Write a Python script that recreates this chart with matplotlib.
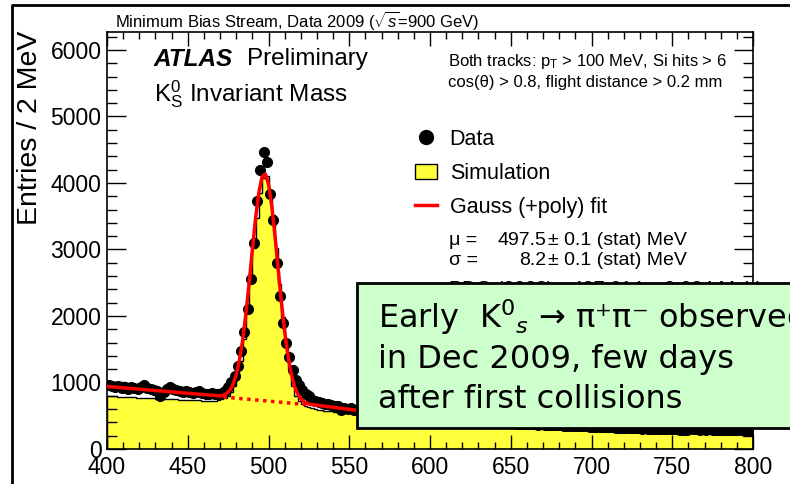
import numpy as np
import matplotlib
matplotlib.use("Agg")
import matplotlib.pyplot as plt
from matplotlib.lines import Line2D
from matplotlib.patches import Patch, Rectangle

plt.rcParams['font.family'] = ['Liberation Sans', 'DejaVu Sans']
plt.rcParams['mathtext.fontset'] = 'custom'
plt.rcParams['mathtext.rm'] = 'Liberation Sans'
plt.rcParams['mathtext.it'] = 'Liberation Sans:italic'
plt.rcParams['mathtext.bf'] = 'Liberation Sans:bold'
plt.rcParams['hatch.color'] = '#ffffb4'
plt.rcParams['hatch.linewidth'] = 1.0

# 2 MeV bins from 400 to 800 MeV
bin_lo, bin_hi, bin_w = 400, 800, 2

data = [
    955, 940, 930, 950, 915, 935, 905, 925, 915, 900,
    935, 960, 915, 900, 890, 870, 800, 850, 900, 935,
    905, 880, 870, 860, 875, 850, 845, 860, 870, 835,
    830, 825, 840, 820, 830, 845, 870, 930, 1000, 1100,
    1250, 1480, 1760, 2100, 2560, 3100, 3730, 4200, 4470, 4320,
    3830, 3450, 2800, 2300, 1900, 1590, 1390, 1190, 1040, 960,
    890, 830, 790, 740, 720, 700, 690, 670, 680, 655,
    640, 650, 590, 620, 600, 610, 590, 580, 575, 570,
    560, 565, 548, 545, 542, 530, 533, 520, 522, 512,
    510, 500, 503, 492, 497, 485, 488, 478, 476, 468,
    470, 462, 460, 452, 455, 446, 447, 438, 440, 432,
    431, 425, 427, 419, 421, 414, 416, 408, 410, 402,
    404, 398, 400, 393, 394, 388, 390, 383, 384, 378,
    380, 373, 375, 368, 370, 364, 366, 360, 361, 355,
    357, 351, 353, 347, 348, 343, 345, 339, 340, 335,
    336, 331, 333, 327, 329, 324, 326, 320, 322, 316,
    318, 313, 315, 310, 312, 307, 309, 304, 306, 301,
    303, 299, 301, 296, 298, 294, 296, 291, 293, 289,
    310, 296, 305, 290, 300, 288, 295, 285, 292, 283,
    290, 282, 288, 280, 286, 279, 284, 277, 282, 276,
]

sim = [
    800, 796, 791, 789, 785, 783, 779, 778, 775, 773,
    770, 768, 765, 764, 761, 759, 757, 754, 752, 750,
    748, 745, 744, 741, 739, 737, 735, 732, 730, 728,
    726, 724, 725, 728, 735, 745, 765, 800, 860, 950,
    1100, 1330, 1650, 2050, 2520, 3020, 3480, 3850, 4080, 4100,
    3900, 3520, 3020, 2480, 1980, 1550, 1200, 950, 800, 720,
    670, 640, 625, 612, 600, 592, 585, 578, 572, 566,
    560, 555, 550, 545, 540, 536, 532, 528, 524, 520,
    516, 512, 508, 504, 500, 496, 492, 488, 484, 480,
    476, 472, 468, 465, 461, 458, 454, 451, 447, 444,
    441, 438, 435, 432, 429, 426, 423, 420, 417, 415,
    412, 409, 407, 404, 402, 399, 397, 394, 392, 390,
    387, 385, 383, 381, 379, 376, 374, 372, 370, 368,
    366, 364, 362, 360, 358, 357, 355, 353, 351, 349,
    348, 346, 344, 343, 341, 340, 338, 336, 335, 333,
    332, 330, 329, 327, 326, 325, 323, 322, 320, 319,
    318, 316, 315, 314, 312, 311, 310, 309, 307, 306,
    305, 304, 303, 302, 300, 299, 298, 297, 296, 295,
    294, 293, 292, 291, 290, 289, 288, 288, 287, 286,
    285, 284, 284, 283, 282, 281, 281, 280, 279, 279,
]

# Gauss (+poly) fit curve
fit_x = [400, 470, 472, 474, 476, 478, 480, 482, 484, 486, 488, 490, 492, 494,
         496, 498, 500, 502, 504, 506, 508, 510, 512, 514, 516, 518, 520, 522,
         524, 526, 552, 600]
fit_y = [940, 798, 809, 833, 883, 970, 1114, 1334, 1637, 2031, 2494, 2994, 3470,
         3855, 4092, 4137, 3985, 3660, 3209, 2706, 2208, 1768, 1411, 1141, 953,
         831, 755, 711, 685, 671, 590, 500]
# polynomial part under the peak
bkg_x = [472, 524]
bkg_y = [782, 667]

x_ticks = [400, 450, 500, 550, 600, 650, 700, 750, 800]
y_ticks = [0, 1000, 2000, 3000, 4000, 5000, 6000]

edges = np.arange(bin_lo, bin_hi + bin_w, bin_w)
centers = edges[:-1] + bin_w / 2
data = np.array(data)
sim = np.array(sim)

yellow = '#ffff3c'

W, H = 790, 484
fig = plt.figure(figsize=(W / 100, H / 100), dpi=100)
ax = fig.add_axes([107 / W, 1 - 449 / H, 646 / W, 417 / H])

ax.stairs(sim, edges, fill=True, facecolor=yellow, edgecolor='none',
          hatch='.....', zorder=1)
ax.stairs(sim, edges, color='black', lw=1.0, zorder=2)
ax.errorbar(centers, data, yerr=np.sqrt(data), fmt='o', color='black',
            ms=7, elinewidth=1, capsize=0, zorder=3)
ax.plot(fit_x, fit_y, color='red', lw=2.5, zorder=4)
ax.plot(bkg_x, bkg_y, color='red', lw=2.5, ls=(0, (1, 1.3)), zorder=4)

ax.set_xlim(bin_lo, bin_hi)
ax.set_ylim(0, 6270)
ax.set_xticks(x_ticks)
ax.set_yticks(y_ticks)
ax.set_xticks(np.arange(400, 801, 10), minor=True)
ax.set_yticks(np.arange(0, 6201, 200), minor=True)
ax.tick_params(which='both', direction='in', top=True, right=True,
               labelsize=16.5, width=1)
ax.tick_params(axis='x', which='major', length=10, pad=5)
ax.tick_params(axis='x', which='minor', length=5)
ax.tick_params(axis='y', which='major', length=14, pad=4)
ax.tick_params(axis='y', which='minor', length=7)
for s in ax.spines.values():
    s.set_linewidth(1.2)

fig.text(30 / W, 1 - 31 / H, 'Entries / 2 MeV', rotation=90,
         ha='center', va='top', fontsize=20.5)
fig.text(115 / W, 1 - 21 / H, r'Minimum Bias Stream, Data 2009 ($\sqrt{s}$=900 GeV)',
         ha='left', va='center', fontsize=12)

ax.text(0.072, 0.935, 'ATLAS', transform=ax.transAxes, fontsize=17.5,
        fontweight='bold', fontstyle='italic', va='center')
ax.text(0.217, 0.935, 'Preliminary', transform=ax.transAxes, fontsize=17.5,
        va='center')
ax.text(0.072, 0.852, r'K$^0_\mathrm{S}$ Invariant Mass', transform=ax.transAxes,
        fontsize=17.5, va='center')

ax.text(0.528, 0.93, r'Both tracks: p$_\mathrm{T}$ > 100 MeV, Si hits > 6',
        transform=ax.transAxes, fontsize=12, va='center')
ax.text(0.528, 0.878, 'cos(θ) > 0.8, flight distance > 0.2 mm',
        transform=ax.transAxes, fontsize=12, va='center')

handles = [
    Line2D([], [], marker='o', color='black', ls='none', ms=10),
    Patch(facecolor=yellow, edgecolor='black', lw=1),
    Line2D([], [], color='red', lw=2.5),
]
leg = ax.legend(handles, ['Data', 'Simulation', 'Gauss (+poly) fit'],
                loc='upper left', bbox_to_anchor=(0.477, 0.768), frameon=False,
                fontsize=15.5, handlelength=1.0, handletextpad=0.6,
                labelspacing=0.6, borderpad=0, borderaxespad=0)

fs = 14
ax.text(0.529, 0.5, 'μ =', transform=ax.transAxes, fontsize=fs, va='center')
ax.text(0.68, 0.5, '497.5', transform=ax.transAxes, fontsize=fs, va='center', ha='right')
ax.text(0.683, 0.5, '± 0.1 (stat) MeV', transform=ax.transAxes, fontsize=fs, va='center')
ax.text(0.529, 0.452, 'σ =', transform=ax.transAxes, fontsize=fs, va='center')
ax.text(0.68, 0.452, '8.2', transform=ax.transAxes, fontsize=fs, va='center', ha='right')
ax.text(0.683, 0.452, '± 0.1 (stat) MeV', transform=ax.transAxes, fontsize=fs, va='center')
ax.text(0.529, 0.382, 'PDG (2008):', transform=ax.transAxes, fontsize=fs, va='center')
ax.text(0.72, 0.382, '497.614 ± 0.024 MeV', transform=ax.transAxes, fontsize=fs,
        va='center')

# canvas frame
fig.add_artist(Line2D([12 / W, 12 / W, 1.0], [0.0, 1 - 5 / H, 1 - 5 / H],
                      color='black', lw=2, transform=fig.transFigure))

# green comment box
fig.add_artist(Rectangle((357 / W, 1 - 428 / H), 440 / W, 145 / H,
                         facecolor='#ccffcc', edgecolor='black', lw=2,
                         transform=fig.transFigure, zorder=10))
box_lines = [r'Early  K$^0{}_s$ → π⁺π⁻ observed',
             'in Dec 2009, few days',
             'after first collisions']
for i, line in enumerate(box_lines):
    fig.text(378 / W, 1 - (328 + 40 * i) / H, line, fontsize=23,
             family='DejaVu Sans', math_fontfamily='dejavusans',
             va='baseline', ha='left', zorder=11)

fig.savefig('out.png', dpi=100)
